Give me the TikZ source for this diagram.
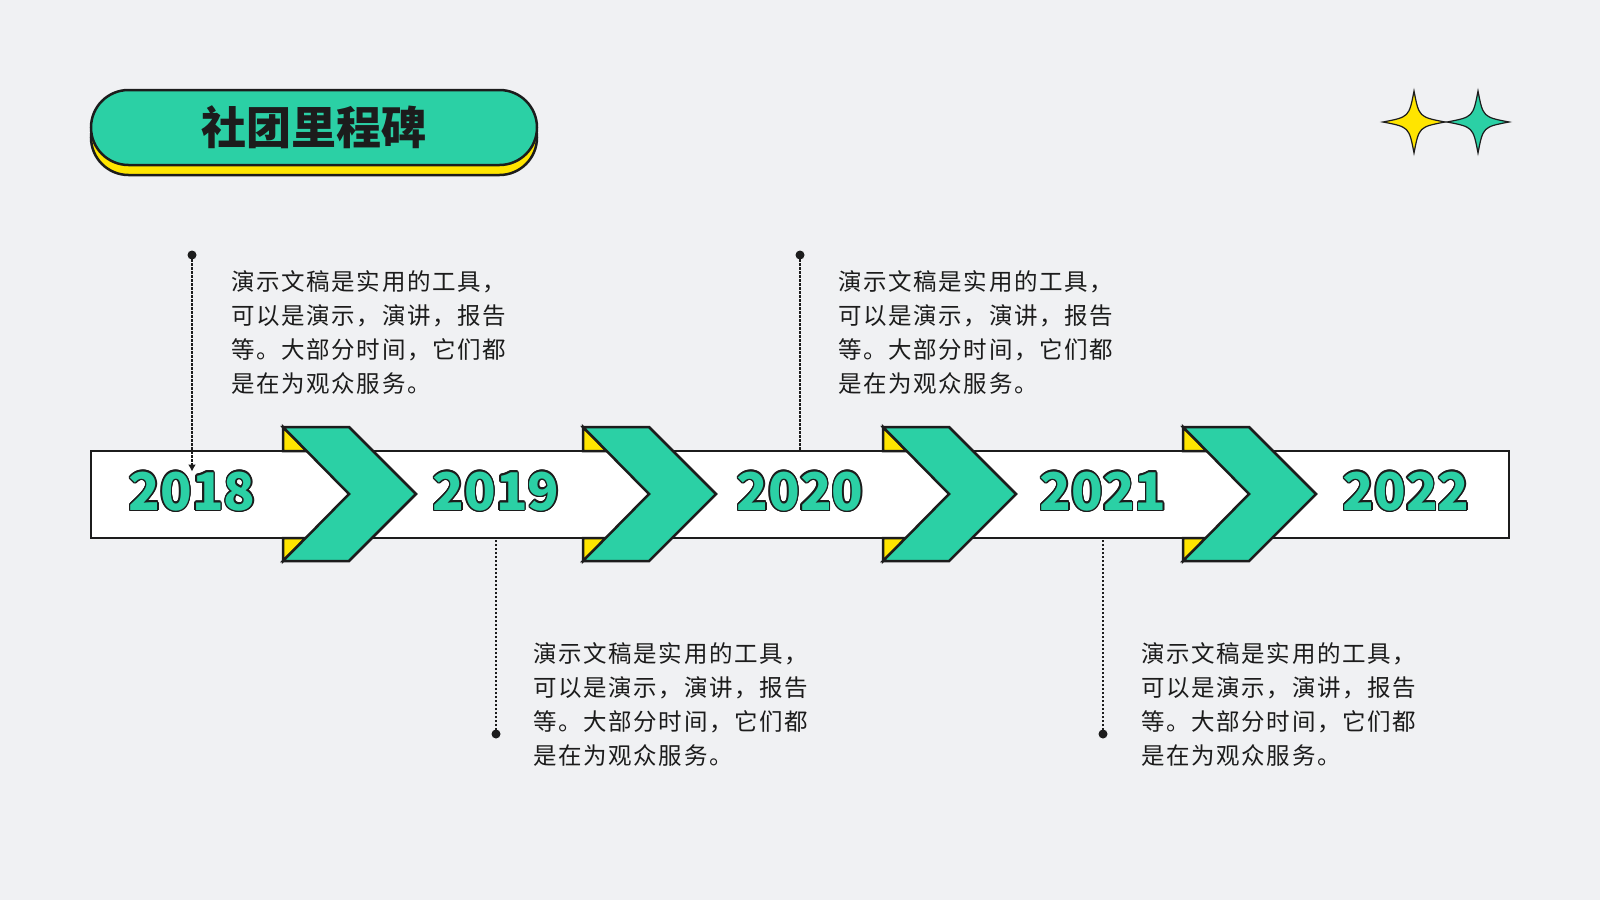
\documentclass[tikz,border=0pt]{standalone}
\usepackage{fontspec}
\setmainfont{Noto Sans CJK SC}
\newfontfamily\bodyfont{Noto Sans CJK SC}[LetterSpace=7]
\usepackage{contour}
\contourlength{1.4pt}
\usepackage{tikz}
\usetikzlibrary{positioning}
\usetikzlibrary{arrows.meta}
\definecolor{bgcol}{HTML}{F0F1F3}
\definecolor{mint}{HTML}{2BD0A5}
\definecolor{sun}{HTML}{FFE500}
\definecolor{ink}{HTML}{1C1C1C}
\tikzset{>=latex}
\tikzset{
  outline/.style={draw=ink, line width=2.5},
  chevron/.pic={
    \draw[outline, fill=sun] (0,0) -- (0,24) -- (24,24) -- cycle;
    \draw[outline, fill=sun] (0,111) -- (0,134) -- (23,111) -- cycle;
    \draw[outline, fill=mint] (0,0) -- (66,0) -- (133,67) -- (66,134) -- (0,134) -- (66,67) -- cycle;
  },
  sparkle/.pic={
    \path[pic actions] (31,0) .. controls (5,5) .. (0,31) .. controls (-5,5) .. (-31,0)
      .. controls (-5,-5) .. (0,-31) .. controls (5,-5) .. cycle;
  }
}

\begin{document}
\begin{tikzpicture}[x=1pt, y=-1pt,
  yeartext/.style={text=mint, font=\fontsize{52}{58}\selectfont\bfseries, inner sep=0},
  bodytext/.style={text=ink, font=\bodyfont\fontsize{23.5}{34}\selectfont, align=left, anchor=north west, inner sep=0},
  leader/.style={draw=ink, line width=2.5, dash pattern=on 2.5pt off 1.5pt}]

% Background
\fill[bgcol] (0,0) rectangle (1600,900);

% Title pill
\draw[outline, fill=sun, rounded corners=37.5] (91,100) rectangle (537,175);
\draw[outline, fill=mint, rounded corners=37.5] (91,90) rectangle (537,165);
\node[font=\fontsize{45}{50}\selectfont\bfseries, text=ink] (title) at (314,127.5) {社团里程碑};

% Sparkles
\pic[draw=ink, line width=1.2, fill=sun] at (1414,122) {sparkle};
\pic[draw=ink, line width=1.2, fill=mint] at (1478,122) {sparkle};

% Band
\node[outline, fill=white, minimum width=1418, minimum height=87, inner sep=0] (band) at (800,494.5) {};

% Chevrons
\pic at (283,427) {chevron};
\pic at (583,427) {chevron};
\pic at (883,427) {chevron};
\pic at (1183,427) {chevron};

% Years
\node[yeartext] (y2018) at (192,492) {\contour{ink}{2018}};
\node[yeartext] (y2019) at (496,492) {\contour{ink}{2019}};
\node[yeartext] (y2020) at (800,492) {\contour{ink}{2020}};
\node[yeartext] (y2021) at (1103,492) {\contour{ink}{2021}};
\node[yeartext] (y2022) at (1406,492) {\contour{ink}{2022}};

% Leader dots
\coordinate (d2018) at (192,255);
\coordinate (d2019) at (496,734);
\coordinate (d2020) at (800,255);
\coordinate (d2021) at (1103,734);

% Leaders
\draw[leader, -{Latex[length=7pt,width=8pt]}] (d2018) -- (y2018.north);
\draw[leader] (d2019) -- (d2019 |- band.south);
\draw[leader] (d2020) -- (d2020 |- band.north);
\draw[leader] (d2021) -- (d2021 |- band.south);
\fill[ink] (d2018) circle (4.5);
\fill[ink] (d2019) circle (4.5);
\fill[ink] (d2020) circle (4.5);
\fill[ink] (d2021) circle (4.5);

% Texts
\node[bodytext] (t2018) at (231,270) {演示文稿是实用的工具，\\可以是演示，演讲，报告\\等。大部分时间，它们都\\是在为观众服务。};
\node[bodytext] (t2019) at (533,642) {演示文稿是实用的工具，\\可以是演示，演讲，报告\\等。大部分时间，它们都\\是在为观众服务。};
\node[bodytext] (t2020) at (838,270) {演示文稿是实用的工具，\\可以是演示，演讲，报告\\等。大部分时间，它们都\\是在为观众服务。};
\node[bodytext] (t2021) at (1141,642) {演示文稿是实用的工具，\\可以是演示，演讲，报告\\等。大部分时间，它们都\\是在为观众服务。};

\end{tikzpicture}
\end{document}
